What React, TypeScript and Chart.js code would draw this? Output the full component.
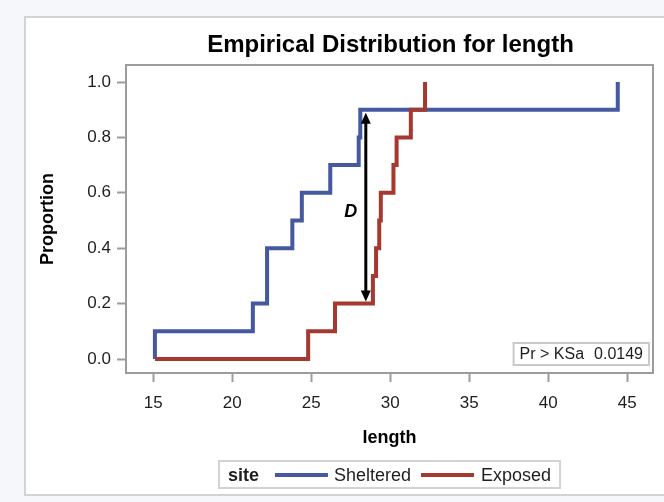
import React, { useEffect, useRef } from "react";
import { Chart, registerables } from "chart.js";

Chart.register(...registerables);

// ---- data ----
const chartTitle = "Empirical Distribution for length";
const xAxisTitle = "length";
const yAxisTitle = "Proportion";
const legendTitle = "site";
const seriesNames = ["Sheltered", "Exposed"];
const shelteredLengths = [15.1, 21.3, 22.2, 22.2, 23.8, 24.4, 26.2, 28.0, 28.1, 44.4];
const exposedLengths = [24.8, 26.5, 28.9, 29.1, 29.3, 29.4, 30.2, 30.4, 31.3, 32.2];
const ecdfStart = 15.1;
const xTicks = [15, 20, 25, 30, 35, 40, 45];
const yTicks = [0, 0.2, 0.4, 0.6, 0.8, 1.0];
const xRange = [13.27, 46.63];
const yRange = [-0.0505, 1.0614];
const dArrow = { x: 28.45, low: 0.2, high: 0.9, labelY: 0.53 };
const dLabel = "D";
const ksLabel = "Pr > KSa";
const ksValue = "0.0149";

// ---- styles ----
const BLUE = "#44599f";
const RED = "#a5392f";
const FRAME = "#9c9c9c";
const TEXT = "#1e1e1e";
const FONT = '"Liberation Sans", Arial, sans-serif';

function ecdf(values: number[]) {
  const n = values.length;
  const pts: { x: number; y: number }[] = [{ x: ecdfStart, y: 0 }];
  values.forEach((v, i) => pts.push({ x: v, y: (i + 1) / n }));
  return pts;
}

const decor = {
  id: "decor",
  beforeDraw(chart: any) {
    const { ctx, width, height } = chart;
    ctx.save();
    ctx.fillStyle = "#f6f7fb";
    ctx.fillRect(0, 0, width, height);
    ctx.fillStyle = "#ffffff";
    ctx.fillRect(25, 17, width, 478);
    ctx.strokeStyle = "#d3d3d3";
    ctx.lineWidth = 2;
    ctx.strokeRect(25, 17, width + 10, 478);
    ctx.restore();
  },
  beforeDatasetsDraw(chart: any) {
    const { ctx, chartArea: a } = chart;
    ctx.save();
    ctx.strokeStyle = FRAME;
    ctx.lineWidth = 2;
    ctx.strokeRect(a.left, a.top, a.right - a.left, a.bottom - a.top);
    ctx.restore();
  },
  afterDatasetsDraw(chart: any) {
    const { ctx, chartArea: a } = chart;
    const xs = chart.scales.x;
    const ys = chart.scales.y;
    ctx.save();
    // KS arrow
    const ax = xs.getPixelForValue(dArrow.x);
    const yTop = ys.getPixelForValue(dArrow.high) + 3;
    const yBot = ys.getPixelForValue(dArrow.low) - 2;
    const head = 11;
    const hw = 5;
    ctx.strokeStyle = "#000";
    ctx.fillStyle = "#000";
    ctx.lineWidth = 3;
    ctx.beginPath();
    ctx.moveTo(ax, yTop + head - 1);
    ctx.lineTo(ax, yBot - head + 1);
    ctx.stroke();
    ctx.beginPath();
    ctx.moveTo(ax, yTop);
    ctx.lineTo(ax - hw, yTop + head);
    ctx.lineTo(ax + hw, yTop + head);
    ctx.closePath();
    ctx.fill();
    ctx.beginPath();
    ctx.moveTo(ax, yBot);
    ctx.lineTo(ax - hw, yBot - head);
    ctx.lineTo(ax + hw, yBot - head);
    ctx.closePath();
    ctx.fill();
    // D label
    ctx.font = "italic bold 18px " + FONT;
    ctx.textAlign = "center";
    ctx.textBaseline = "middle";
    ctx.fillText(dLabel, ax - 15, ys.getPixelForValue(dArrow.labelY));
    // KS p-value box
    ctx.font = "16px " + FONT;
    const pad = 6;
    const gap = 10;
    const w1 = ctx.measureText(ksLabel).width;
    const w2 = ctx.measureText(ksValue).width;
    const bw = pad + w1 + gap + w2 + pad;
    const bh = 22;
    const bx = a.right - 4 - bw;
    const by = a.bottom - 8 - bh;
    ctx.fillStyle = "#fff";
    ctx.fillRect(bx, by, bw, bh);
    ctx.strokeStyle = "#c9c9c9";
    ctx.lineWidth = 2;
    ctx.strokeRect(bx, by, bw, bh);
    ctx.fillStyle = TEXT;
    ctx.textAlign = "left";
    ctx.fillText(ksLabel, bx + pad, by + bh / 2 + 1);
    ctx.fillText(ksValue, bx + pad + w1 + gap, by + bh / 2 + 1);
    ctx.restore();
  },
  afterDraw(chart: any) {
    const { ctx, chartArea: a } = chart;
    const cx = (a.left + a.right) / 2;
    ctx.save();
    // title
    ctx.fillStyle = "#000";
    ctx.font = "bold 24px " + FONT;
    ctx.textAlign = "center";
    ctx.textBaseline = "middle";
    ctx.fillText(chartTitle, cx + 1, 45);
    // legend
    const ly = 475;
    ctx.font = "bold 18px " + FONT;
    const wt = ctx.measureText(legendTitle).width;
    ctx.font = "18px " + FONT;
    const w1 = ctx.measureText(seriesNames[0]).width;
    const w2 = ctx.measureText(seriesNames[1]).width;
    const lineLen = 53;
    const padL = 9, padR = 9;
    const total = padL + wt + 16 + lineLen + 6 + w1 + 10 + lineLen + 7 + w2 + padR;
    const lx = cx - total / 2;
    ctx.fillStyle = "#fff";
    ctx.fillRect(lx, 461, total, 27);
    ctx.strokeStyle = "#d3d3d3";
    ctx.lineWidth = 2;
    ctx.strokeRect(lx, 461, total, 27);
    let x = lx + padL;
    ctx.textAlign = "left";
    ctx.fillStyle = TEXT;
    ctx.font = "bold 18px " + FONT;
    ctx.fillText(legendTitle, x, ly + 1);
    x += wt + 16;
    ctx.lineWidth = 4;
    ctx.strokeStyle = BLUE;
    ctx.beginPath();
    ctx.moveTo(x, ly);
    ctx.lineTo(x + lineLen, ly);
    ctx.stroke();
    x += lineLen + 6;
    ctx.font = "18px " + FONT;
    ctx.fillText(seriesNames[0], x, ly + 1);
    x += w1 + 10;
    ctx.strokeStyle = RED;
    ctx.beginPath();
    ctx.moveTo(x, ly);
    ctx.lineTo(x + lineLen, ly);
    ctx.stroke();
    x += lineLen + 7;
    ctx.fillText(seriesNames[1], x, ly + 1);
    ctx.restore();
  },
};

export default function App() {
  const ref = useRef<HTMLCanvasElement | null>(null);
  useEffect(() => {
    document.body.style.margin = "0";
    document.body.style.background = "#f6f7fb";
    const canvas = ref.current;
    if (!canvas) return;
    const chart = new Chart(canvas, {
      type: "line",
      data: {
        datasets: [
          {
            label: seriesNames[0],
            data: ecdf(shelteredLengths),
            borderColor: BLUE,
            borderWidth: 4,
            stepped: "before",
            pointRadius: 0,
            fill: false,
            order: 1,
            borderJoinStyle: "miter",
            borderCapStyle: "butt",
          },
          {
            label: seriesNames[1],
            data: ecdf(exposedLengths),
            borderColor: RED,
            borderWidth: 4,
            stepped: "before",
            pointRadius: 0,
            fill: false,
            order: 0,
            borderJoinStyle: "miter",
            borderCapStyle: "butt",
          },
        ],
      },
      options: {
        animation: false,
        responsive: false,
        devicePixelRatio: 1,
        layout: { padding: { top: 65, right: 11, left: 0, bottom: 0 } },
        plugins: { legend: { display: false }, title: { display: false }, tooltip: { enabled: false } },
        scales: {
          x: {
            type: "linear",
            min: xRange[0],
            max: xRange[1],
            afterBuildTicks: (s: any) => {
              s.ticks = xTicks.map((v) => ({ value: v }));
            },
            afterFit: (s: any) => {
              s.height = 129;
            },
            grid: { display: true, drawOnChartArea: false, drawTicks: true, tickLength: 9, tickColor: FRAME, tickWidth: 2 },
            border: { display: false },
            ticks: { color: TEXT, font: { family: FONT, size: 17 }, padding: 11, maxRotation: 0, autoSkip: false },
            title: {
              display: true,
              text: xAxisTitle,
              color: "#000",
              font: { family: FONT, size: 18, weight: "bold" },
              padding: { top: 0, bottom: 53 },
            },
          },
          y: {
            type: "linear",
            min: yRange[0],
            max: yRange[1],
            afterBuildTicks: (s: any) => {
              s.ticks = yTicks.map((v) => ({ value: v }));
            },
            afterFit: (s: any) => {
              s.width = 126;
            },
            grid: { display: true, drawOnChartArea: false, drawTicks: true, tickLength: 9, tickColor: FRAME, tickWidth: 2 },
            border: { display: false },
            ticks: {
              color: TEXT,
              font: { family: FONT, size: 17 },
              padding: 6,
              autoSkip: false,
              callback: (v: any) => Number(v).toFixed(1),
            },
            title: {
              display: true,
              text: yAxisTitle,
              color: "#000",
              font: { family: FONT, size: 18, weight: "bold" },
              padding: { top: 37, bottom: 0 },
            },
          },
        },
      },
      plugins: [decor],
    } as any);
    return () => chart.destroy();
  }, []);
  return (
    <div style={{ position: "absolute", left: 0, top: 0, width: 664, height: 502 }}>
      <canvas ref={ref} width={664} height={502} style={{ width: 664, height: 502, display: "block" }} />
    </div>
  );
}
